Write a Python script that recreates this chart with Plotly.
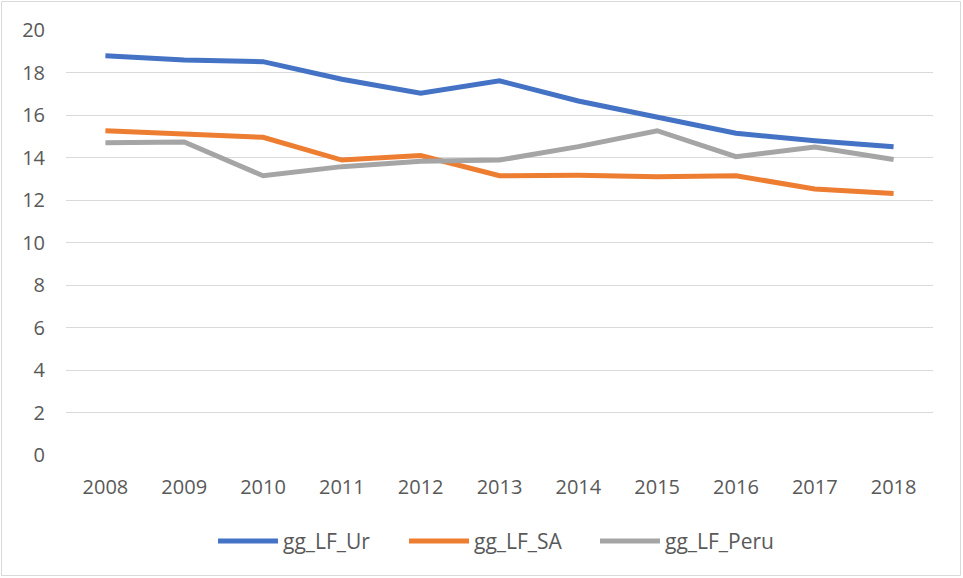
import plotly.graph_objects as go

years = ["2008", "2009", "2010", "2011", "2012", "2013", "2014", "2015", "2016", "2017", "2018"]
gg_LF_Ur = [18.79, 18.59, 18.51, 17.68, 17.02, 17.61, 16.66, 15.89, 15.14, 14.79, 14.51]
gg_LF_SA = [15.26, 15.10, 14.95, 13.88, 14.09, 13.14, 13.16, 13.10, 13.14, 12.52, 12.31]
gg_LF_Peru = [14.70, 14.73, 13.14, 13.57, 13.82, 13.88, 14.51, 15.26, 14.04, 14.49, 13.91]

series = [("gg_LF_Ur", gg_LF_Ur, "#4472C4"),
          ("gg_LF_SA", gg_LF_SA, "#ED7D31"),
          ("gg_LF_Peru", gg_LF_Peru, "#A5A5A5")]

font_family = "Open Sans, Noto Sans, sans-serif"
W, H = 963, 578
L, R, T, B = 66, 30, 30, 123
pw, ph = W - L - R, H - T - B

fig = go.Figure()
for name, vals, color in series:
    fig.add_trace(go.Scatter(x=years, y=vals, name=name, mode="lines",
                             line=dict(color=color, width=5)))

fig.update_layout(
    width=W, height=H,
    margin=dict(l=L, r=R, t=T, b=B),
    paper_bgcolor="white", plot_bgcolor="white",
    font=dict(family=font_family, size=20, color="#595959"),
    showlegend=True,
    legend=dict(orientation="h", x=0.5, xanchor="center", y=-0.155, yanchor="top",
                font=dict(size=21, color="#595959"), itemwidth=60, tracegroupgap=0,
                entrywidth=116, entrywidthmode="pixels"),
    xaxis=dict(type="category", range=[-0.5, 10.5], showgrid=False, showline=False,
               ticks="", tickfont=dict(size=20, color="#595959"), zeroline=False,
               ticklabelstandoff=18),
    yaxis=dict(range=[0, 20], dtick=2, showgrid=True, gridcolor="#D9D9D9", gridwidth=1.3,
               zeroline=False, showline=False, ticks="", ticklabelstandoff=20,
               tickfont=dict(size=20, color="#595959")),
    shapes=[dict(type="rect", xref="paper", yref="paper",
                 x0=-(L - 1.5) / pw, x1=1 + (R - 2.5) / pw,
                 y0=-(B - 2.5) / ph, y1=1 + (T - 1.5) / ph,
                 line=dict(color="#D9D9D9", width=1), fillcolor="rgba(0,0,0,0)", layer="below")],
)

fig.write_html("out.html", config={"displayModeBar": False},
               post_script="document.body.style.margin='0';document.body.style.padding='0';")
